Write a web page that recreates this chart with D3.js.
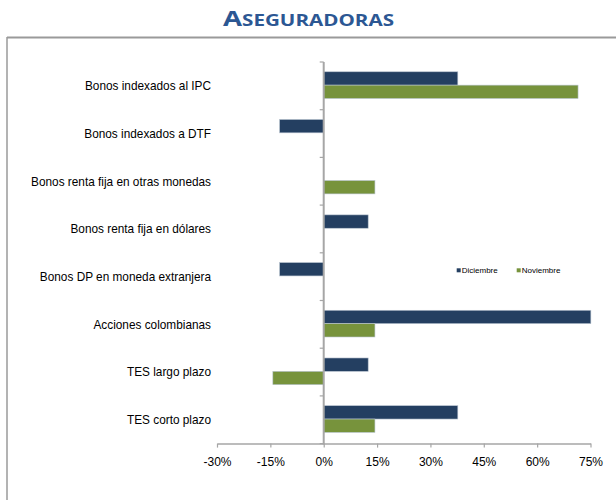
<!DOCTYPE html>
<html><head><meta charset="utf-8">
<script src="https://cdn.jsdelivr.net/npm/d3@7"></script>
<style>
html,body{margin:0;padding:0;background:#fff;}
svg{display:block;}
text{font-family:"Liberation Sans",Arial,sans-serif;fill:#000;}
</style></head>
<body>
<svg id="chart" width="616" height="500"></svg>
<script>
const categories = ["Bonos indexados al IPC","Bonos indexados a DTF","Bonos renta fija en otras monedas","Bonos renta fija en dólares","Bonos DP en moneda extranjera","Acciones colombianas","TES largo plazo","TES corto plazo"];
const series = ["Diciembre","Noviembre"];
const diciembre = [37.7, -12.4, 0, 12.5, -12.4, 75.1, 12.5, 37.7];
const noviembre = [71.5, 0, 14.4, 0, 0, 14.4, -14.3, 14.4];
const xTicks = [-30,-15,0,15,30,45,60,75];
const colors = ["#243f61","#77933c"];

const svg = d3.select("#chart");

// frame
svg.append("line").attr("x1",7).attr("x2",616).attr("y1",37.5).attr("y2",37.5).attr("stroke","#9a9a9a").attr("stroke-width",2);
svg.append("line").attr("x1",7).attr("x2",7).attr("y1",37).attr("y2",500).attr("stroke","#9a9a9a").attr("stroke-width",1.5);

// title
const title = svg.append("text").attr("x",0).attr("y",0).attr("text-anchor","start")
  .style("font-family","'Open Sans', Lato, sans-serif").style("font-weight","bold");
title.append("tspan").text("A").style("font-size","22px").style("fill","#2c5793");
title.append("tspan").text("SEGURADORAS").style("font-size","16.4px").style("fill","#2c5793");
const tw = title.node().getComputedTextLength();
const tsx = 171/tw;
title.attr("transform",`translate(223,25.7) scale(${tsx},1)`);

const x = d3.scaleLinear().domain([-30,75]).range([217,590.5]);
const y = d3.scaleBand().domain(categories).range([62,443.6]);
const bw = y.bandwidth();
const y1 = d3.scaleBand().domain(series).range([bw*0.205, bw*0.765]);

const data = categories.map((c,i)=>({cat:c, vals:[diciembre[i], noviembre[i]]}));

// bars
const g = svg.append("g");
data.forEach(d=>{
  d.vals.forEach((v,j)=>{
    if(v===0) return;
    g.append("rect")
      .attr("x", x(Math.min(0,v)))
      .attr("width", Math.abs(x(v)-x(0)))
      .attr("y", y(d.cat)+y1(series[j]))
      .attr("height", y1.bandwidth())
      .attr("fill", colors[j])
      .attr("stroke","#b8c3cf").attr("stroke-width",0.6);
  });
});

// category axis at x=0
const axColor = "#a6a6a6";
svg.append("line").attr("x1",x(0)).attr("x2",x(0)).attr("y1",y.range()[0]).attr("y2",y.range()[1]+1)
  .attr("stroke",axColor).attr("stroke-width",2);
const bounds = categories.map(c=>y(c)).concat([y.range()[1]]);
bounds.forEach(b=>{
  svg.append("line").attr("x1",x(0)-4).attr("x2",x(0)).attr("y1",b).attr("y2",b).attr("stroke",axColor).attr("stroke-width",1.2);
});
const labels = categories.map(c=>svg.append("text").attr("x",0).attr("y",0).attr("dy","0.35em")
    .attr("text-anchor","end").style("font-size","12.5px").text(c));
const longest = d3.max(labels, l=>l.node().getComputedTextLength());
const lsx = 180/longest;
labels.forEach((l,i)=>{
  l.attr("transform",`translate(211,${y(categories[i])+bw/2}) scale(${lsx},1)`);
});

// x axis
const xa = svg.append("g").attr("transform",`translate(0,${y.range()[1]})`)
  .call(d3.axisBottom(x).tickValues(xTicks).tickSize(4).tickSizeOuter(0).tickFormat(d=>d+"%"));
xa.select(".domain").attr("stroke",axColor).attr("stroke-width",1.5);
xa.selectAll(".tick line").attr("stroke",axColor).attr("stroke-width",1.2);
xa.selectAll(".tick text").attr("y",14).style("font-size","12px").style("font-family","'Liberation Sans',Arial,sans-serif").attr("fill","#000");

// legend
const legX = [456.7, 516.7];
series.forEach((s,i)=>{
  svg.append("rect").attr("x",legX[i]).attr("y",268.3).attr("width",4).attr("height",4).attr("fill",colors[i]);
  svg.append("text").attr("x",legX[i]+5).attr("y",270.3).attr("dy","0.35em").style("font-size","8px").text(s);
});
</script>
</body></html>
